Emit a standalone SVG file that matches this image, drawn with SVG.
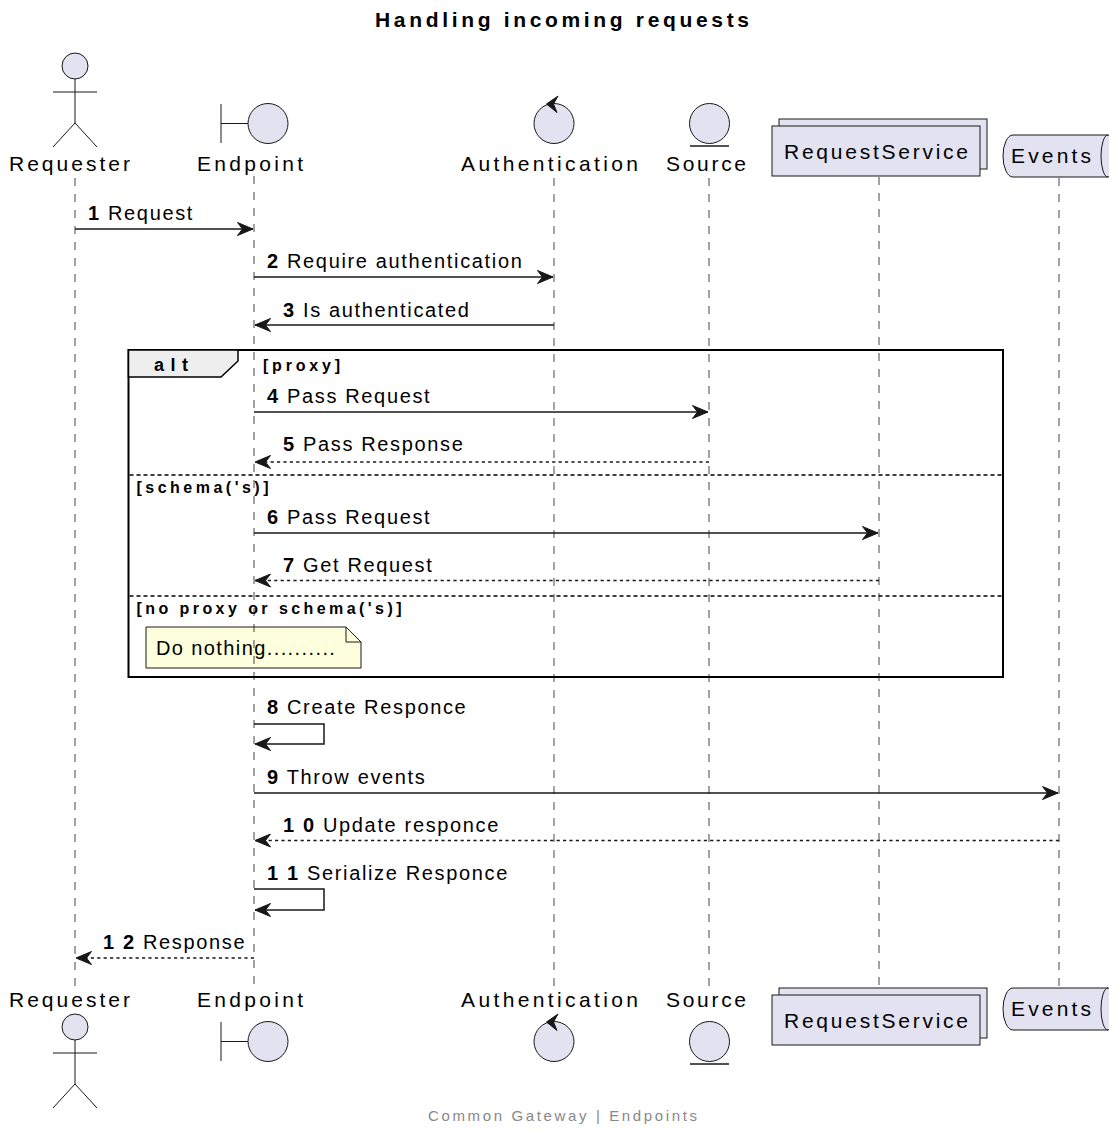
<svg xmlns="http://www.w3.org/2000/svg" width="1109" height="1133" viewBox="0 0 1109 1133">
<style>
text{font-family:"Liberation Sans",Arial,sans-serif;fill:#000}
.pn{font-size:21px}
.msg{font-size:20px;letter-spacing:1.65px}
.num{font-weight:bold}
.lbl{font-size:16px;font-weight:bold}
.part{fill:#E2E2F0;stroke:#181818;stroke-width:1}
.ln{stroke:#181818;stroke-width:1;fill:none}
.life{stroke:#181818;stroke-width:0.8;stroke-dasharray:8,8;fill:none}
.m{stroke:#181818;stroke-width:1.5;fill:none;marker-end:url(#ah)}
.d{stroke-dasharray:3.2,3.2}
.sep{stroke:#000;stroke-width:1.5;stroke-dasharray:4,3}
</style>
<defs>
<marker id="ah" viewBox="0 0 17 14" refX="16" refY="7" markerWidth="17" markerHeight="14" orient="auto" markerUnits="userSpaceOnUse">
<path d="M0.5,0.5 L16,7 L0.5,13.5 L5.5,7 Z" fill="#181818" stroke="#181818" stroke-width="1"/>
</marker>
</defs>
<rect width="1109" height="1133" fill="#fff"/>
<text x="375" y="27" font-size="21" font-weight="bold" textLength="374" lengthAdjust="spacing">Handling incoming requests</text>

<g id="alt-frame">
<rect x="128.5" y="350" width="874.5" height="327" fill="none" stroke="#000" stroke-width="2"/>
<path d="M128.5,350 L238,350 L238,361 L221,377 L128.5,377 Z" fill="#EEEEEE" stroke="#000" stroke-width="1.5"/>
<text x="154" y="371" font-size="18" font-weight="bold" textLength="34" lengthAdjust="spacing">alt</text>
<text class="lbl" x="263" y="371" textLength="77" lengthAdjust="spacing">[proxy]</text>
<line class="sep" x1="129.5" y1="475" x2="1002" y2="475"/>
<text class="lbl" x="136.5" y="493" textLength="132" lengthAdjust="spacing">[schema('s)]</text>
<line class="sep" x1="129.5" y1="596" x2="1002" y2="596"/>
<text class="lbl" x="136.5" y="613.5" textLength="265" lengthAdjust="spacing">[no proxy or schema('s)]</text>
</g>

<g id="note">
<path d="M146,627 L346,627 L361,642 L361,668 L146,668 Z" fill="#FEFFDD" stroke="#181818" stroke-width="1"/>
<path d="M346,627 L346,642 L361,642" fill="none" stroke="#181818" stroke-width="1"/>
<text class="msg" x="156" y="655" style="letter-spacing:1.4px">Do nothing..........</text>
</g>

<g id="lifelines">
<line class="life" x1="75" y1="178" x2="75" y2="990"/>
<line class="life" x1="254" y1="176" x2="254" y2="990"/>
<line class="life" x1="554" y1="178" x2="554" y2="990"/>
<line class="life" x1="709" y1="178" x2="709" y2="990"/>
<line class="life" x1="879" y1="177" x2="879" y2="988"/>
<line class="life" x1="1059" y1="178" x2="1059" y2="988"/>
</g>

<g id="Requester">
<circle class="part" cx="75" cy="66" r="13"/>
<path class="ln" d="M75,79 L75,123 M53,92 L97,92 M53,147 L75,123 L97,147"/>
<text class="pn" x="9" y="171" textLength="121" lengthAdjust="spacing">Requester</text>
<text class="pn" x="9" y="1007" textLength="121" lengthAdjust="spacing">Requester</text>
<circle class="part" cx="75" cy="1027" r="13"/>
<path class="ln" d="M75,1040 L75,1084 M53,1053 L97,1053 M53,1108 L75,1084 L97,1108"/>
</g>

<g id="Endpoint">
<path class="ln" d="M221,104 L221,143 M221,123.5 L248,123.5"/>
<circle class="part" cx="268" cy="123.5" r="20"/>
<text class="pn" x="197" y="171" textLength="106" lengthAdjust="spacing">Endpoint</text>
<text class="pn" x="197" y="1007" textLength="106" lengthAdjust="spacing">Endpoint</text>
<path class="ln" d="M221,1022 L221,1061 M221,1041.5 L248,1041.5"/>
<circle class="part" cx="268" cy="1041.5" r="20"/>
</g>

<g id="Authentication">
<circle class="part" cx="554" cy="123.5" r="20"/>
<path d="M546.5,104 L558,96 L553.5,104 L557,112.5 Z" fill="#181818" stroke="#181818" stroke-width="1"/>
<text class="pn" x="461" y="171" textLength="177" lengthAdjust="spacing">Authentication</text>
<text class="pn" x="461" y="1007" textLength="177" lengthAdjust="spacing">Authentication</text>
<circle class="part" cx="554" cy="1041.5" r="20"/>
<path d="M546.5,1022 L558,1014 L553.5,1022 L557,1030.5 Z" fill="#181818" stroke="#181818" stroke-width="1"/>
</g>

<g id="Source">
<circle class="part" cx="709.5" cy="123.5" r="20"/>
<line x1="690" y1="146" x2="729" y2="146" stroke="#181818" stroke-width="1.5"/>
<text class="pn" x="666" y="171" textLength="80" lengthAdjust="spacing">Source</text>
<text class="pn" x="666" y="1007" textLength="80" lengthAdjust="spacing">Source</text>
<circle class="part" cx="709.5" cy="1041.5" r="20"/>
<line x1="690" y1="1064" x2="729" y2="1064" stroke="#181818" stroke-width="1.5"/>
</g>

<g id="RequestService">
<rect class="part" x="779" y="119" width="208" height="50"/>
<rect class="part" x="772" y="126" width="208" height="50"/>
<text class="pn" x="784" y="159" textLength="184" lengthAdjust="spacing">RequestService</text>
<rect class="part" x="779" y="988" width="208" height="50"/>
<rect class="part" x="772" y="995" width="208" height="50"/>
<text class="pn" x="784" y="1028" textLength="184" lengthAdjust="spacing">RequestService</text>
</g>

<g id="Events">
<path class="part" d="M1013,135 L1108,135 A7,21 0 0 1 1108,177 L1013,177 A10,21 0 0 1 1013,135 Z"/>
<path class="ln" d="M1108,135 A7,21 0 0 0 1108,177"/>
<text class="pn" x="1011" y="163" textLength="80" lengthAdjust="spacing">Events</text>
<path class="part" d="M1013,988 L1108,988 A7,21 0 0 1 1108,1030 L1013,1030 A10,21 0 0 1 1013,988 Z"/>
<path class="ln" d="M1108,988 A7,21 0 0 0 1108,1030"/>
<text class="pn" x="1011" y="1016" textLength="80" lengthAdjust="spacing">Events</text>
</g>

<g id="connectors">
<line class="m" x1="75" y1="229" x2="253" y2="229"/>
<text class="msg" x="88" y="220"><tspan class="num">1</tspan> Request</text>

<line class="m" x1="254" y1="277" x2="553" y2="277"/>
<text class="msg" x="267" y="268"><tspan class="num">2</tspan> Require authentication</text>

<line class="m" x1="554" y1="325" x2="255" y2="325"/>
<text class="msg" x="283" y="317"><tspan class="num">3</tspan> Is authenticated</text>

<line class="m" x1="254" y1="412" x2="708" y2="412"/>
<text class="msg" x="267" y="403"><tspan class="num">4</tspan> Pass Request</text>

<line class="m d" x1="709" y1="462" x2="255" y2="462"/>
<text class="msg" x="283" y="451"><tspan class="num">5</tspan> Pass Response</text>

<line class="m" x1="254" y1="533" x2="878" y2="533"/>
<text class="msg" x="267" y="524"><tspan class="num">6</tspan> Pass Request</text>

<line class="m d" x1="879" y1="580.5" x2="255" y2="580.5"/>
<text class="msg" x="283" y="572"><tspan class="num">7</tspan> Get Request</text>

<polyline class="m" points="254,724 324,724 324,744 255,744"/>
<text class="msg" x="267" y="714"><tspan class="num">8</tspan> Create Responce</text>

<line class="m" x1="254" y1="793" x2="1058" y2="793"/>
<text class="msg" x="267" y="784"><tspan class="num">9</tspan> Throw events</text>

<line class="m d" x1="1059" y1="840.5" x2="255" y2="840.5"/>
<text class="msg" x="283" y="832"><tspan class="num">1 0</tspan> Update responce</text>

<polyline class="m" points="254,889 324,889 324,910 255,910"/>
<text class="msg" x="267" y="880"><tspan class="num">1 1</tspan> Serialize Responce</text>

<line class="m d" x1="254" y1="958" x2="76" y2="958"/>
<text class="msg" x="103" y="949"><tspan class="num">1 2</tspan> Response</text>
</g>

<text x="428" y="1121" font-size="15" fill="#888888" style="fill:#888888" textLength="269" lengthAdjust="spacing">Common Gateway | Endpoints</text>
</svg>
